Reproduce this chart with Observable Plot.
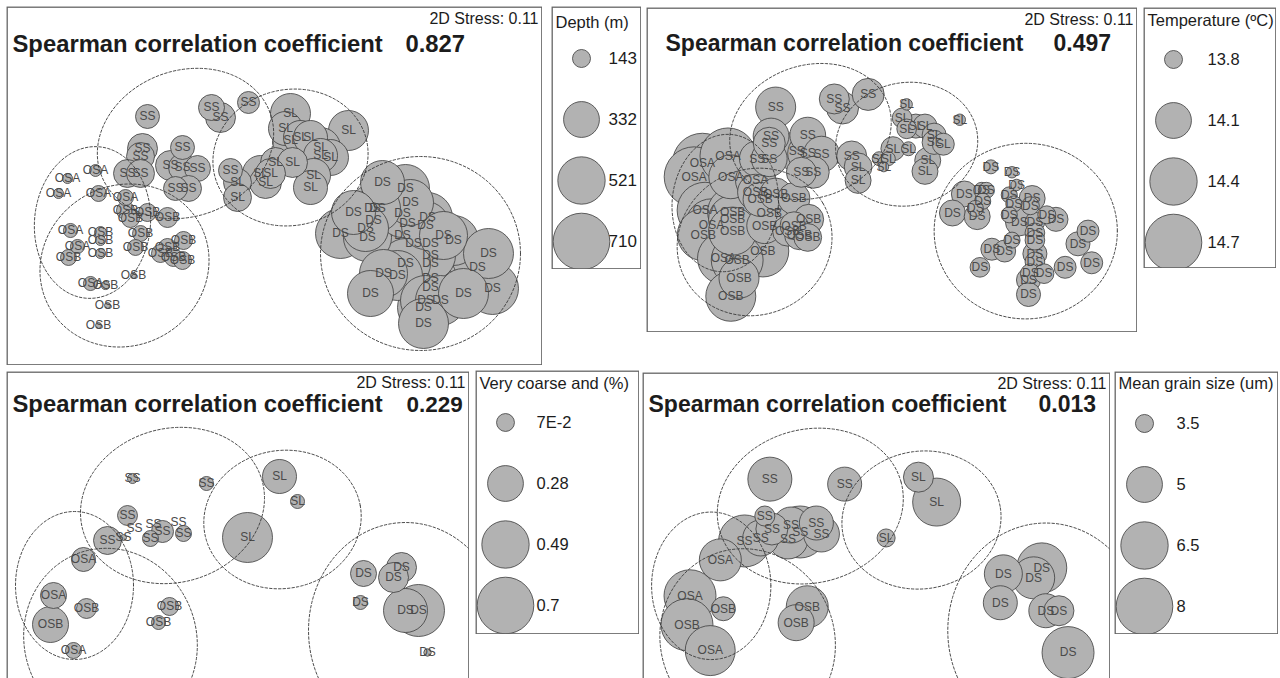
<!DOCTYPE html>
<html><head><meta charset="utf-8">
<script src="https://cdn.jsdelivr.net/npm/d3@7"></script>
<script src="https://cdn.jsdelivr.net/npm/@observablehq/plot@0.6"></script>
<style>
body{margin:0;background:#fff;}
#fig{position:relative;width:1280px;height:678px;overflow:hidden;background:#fff;}
#fig svg{position:absolute;}
</style></head><body><div id="fig"></div>
<script>
// ---------- full sample set (panels 1 & 2): MDS coordinates ----------
const fullLabels = [
  "SS","SS","SS","SS","SS","SS","SS","SS","SS","SS","SS","SS","SS","SS","SS",
  "SL","SL","SL","SL","SL","SL","SL","SL","SL","SL","SL","SL","SL","SL","SL","SL","SL","SL",
  "DS","DS","DS","DS","DS","DS","DS","DS","DS","DS","DS","DS","DS","DS","DS","DS","DS","DS","DS","DS",
  "DS","DS","DS","DS","DS","DS","DS","DS","DS","DS","DS","DS","DS","DS","DS",
  "OSA","OSA","OSA","OSA","OSA","OSB","OSB","OSB","OSB","OSA","OSB","OSB","OSA","OSB","OSB","OSB",
  "OSB","OSB","OSB","OSB","OSB","OSB","OSB","OSA","OSB","OSB","OSB"];
const fullX = [
  -1.27,-0.63,-0.54,-0.26,-1.32,-1.34,-1.47,-1.34,-0.92,-1.04,-0.92,-0.77,-0.86,-0.99,-0.44,
  -0.37,-0.37,-0.14,-0.09,0.16,0.74,0.11,0.16,0.26,0.36,0.46,0.56,0.46,0.01,0.18,0.39,0.36,-0.04,
  1.08,1.31,1.36,0.79,0.98,1.03,0.99,0.91,0.66,0.93,1.28,1.33,1.53,1.51,1.28,1.39,1.56,1.69,1.79,1.56,
  1.56,1.31,1.09,1.23,2.14,2.03,2.18,0.96,1.56,1.56,1.51,1.49,1.66,1.89,1.49,
  -1.79,-2.07,-2.16,-1.76,-1.49,-1.49,-1.44,-1.27,-1.07,-2.04,-1.74,-1.74,-1.97,-1.74,-2.06,-1.34,
  -1.39,-0.91,-1.07,-1.14,-1.01,-0.92,-1.41,-1.84,-1.69,-1.67,-1.76];
const fullY = [
  0.74,0.83,0.73,0.88,0.42,0.34,0.17,0.17,0.43,0.25,0.23,0.22,0.02,0.02,0.20,
  0.08,-0.07,0.17,0.08,0.77,0.60,0.62,0.50,0.53,0.53,0.43,0.33,0.35,0.28,0.28,0.15,0.03,0.17,
  0.08,0.02,-0.12,-0.22,-0.18,-0.18,-0.30,-0.38,-0.43,-0.47,-0.23,-0.33,-0.27,-0.35,-0.45,-0.53,-0.53,-0.45,-0.50,-0.65,
  -0.73,-0.73,-0.83,-0.85,-0.63,-0.77,-0.98,-1.03,-0.88,-0.97,-1.10,-1.17,-1.10,-1.03,-1.33,
  0.20,0.12,-0.03,-0.03,-0.07,-0.20,-0.28,-0.22,-0.27,-0.40,-0.42,-0.50,-0.56,-0.63,-0.67,-0.43,
  -0.57,-0.50,-0.57,-0.63,-0.67,-0.70,-0.85,-0.93,-0.95,-1.15,-1.35];
const depth = [
  192,212,256,174,256,233,233,233,192,256,233,212,212,192,192,
  233,233,334,281,394,394,307,334,307,307,394,334,307,256,256,307,307,256,
  460,533,496,460,533,496,533,496,571,533,533,571,571,533,571,611,571,533,571,571,
  611,571,533,571,571,611,611,496,611,611,571,611,571,571,571,
  107,99,99,129,129,143,143,143,158,118,107,99,118,99,129,129,
  129,143,143,143,143,143,86,118,92,86,86];
const temperature = [
  14.20,13.98,14.02,14.02,14.10,14.02,14.10,14.10,14.10,14.20,14.20,14.10,14.02,13.98,13.98,
  13.94,13.91,13.76,13.73,13.74,13.74,13.82,13.82,13.88,13.88,13.88,13.85,13.88,13.88,13.76,13.91,13.91,13.76,
  13.76,13.74,13.74,13.91,13.78,13.78,13.78,13.78,13.91,13.91,13.78,13.78,13.91,13.80,13.78,13.94,13.82,13.80,13.88,13.82,
  13.82,13.78,13.85,13.85,13.85,13.88,13.85,13.82,13.88,13.82,13.82,13.88,13.82,13.85,13.88,
  14.68,14.82,14.82,14.30,14.20,14.10,14.06,14.02,14.02,14.68,14.48,14.42,14.54,14.42,14.54,14.10,
  14.10,13.98,13.94,13.98,13.98,13.94,14.54,14.54,14.54,14.20,14.48];

// ---------- subset (panels 3 & 4) ----------
const subLabels = ["SS","SS","SS","SS","SS","SS","SS","SS","SS","SS","SS","SL","SL","SL",
  "DS","DS","DS","DS","DS","DS","DS","OSA","OSA","OSB","OSB","OSA","OSB","OSB"];
const subX = [-1.06,-0.32,-1.11,-1.31,-1.15,-1.04,-0.88,-0.76,-0.55,-0.85,-0.60,0.41,0.59,0.09,
  1.25,1.63,1.55,1.22,1.67,1.80,1.89,-1.55,-1.85,-1.88,-1.52,-1.65,-0.69,-0.80];
const subY = [0.47,0.42,0.10,-0.15,-0.12,-0.03,-0.13,-0.06,-0.08,0.01,0.03,0.49,0.24,-0.12,
  -0.48,-0.42,-0.52,-0.77,-0.85,-0.85,-1.27,-0.34,-0.70,-0.99,-0.83,-1.25,-0.81,-0.97];
const coarse = [0.022,0.043,0.087,0.171,0.008,0,0.056,0.106,0.056,0,0,0.253,0.043,0.546,
  0.148,0.197,0.197,0.043,0.423,0.591,0.012,0.126,0.148,0.283,0.087,0.056,0.071,0.043];
const grain = [6.02,4.80,3.62,7.22,5.02,4.59,5.49,7.22,5.02,5.02,4.80,4.40,6.59,3.50,
  5.25,6.90,5.75,4.80,4.80,4.40,7.22,5.75,7.22,7.22,3.89,6.90,5.75,5.02];

// ---------- group ellipses (MDS units) ----------
const ellGroups = ["SS","SL","DS","OSA","OSB"];
const fullEllCx = [-0.89,0.16,1.46,-1.82,-1.50];
const fullEllCy = [0.47,0.33,-0.63,-0.32,-0.75];
const fullEllRx = [0.90,0.78,1.00,0.58,0.86];
const fullEllRy = [0.73,0.68,0.97,0.76,0.80];
const fullEllAng = [20,12,0,-5,30];
const subEllCx = [-0.66,0.44,1.67,-1.64,-1.28];
const subEllCy = [0.20,0.06,-1.05,-0.60,-1.15];
const subEllRx = [0.93,0.79,0.97,0.59,0.86];
const subEllRy = [0.77,0.69,1.08,0.74,0.93];
const subEllAng = [15,10,0,0,20];

// ---------- legends ----------
const depthLegend = [143,332,521,710], depthLegendLabels = ["143","332","521","710"];
const tempLegend = [13.8,14.1,14.4,14.7], tempLegendLabels = ["13.8","14.1","14.4","14.7"];
const coarseLegend = [0.07,0.28,0.49,0.7], coarseLegendLabels = ["7E-2","0.28","0.49","0.7"];
const grainLegend = [3.5,5,6.5,8], grainLegendLabels = ["3.5","5","6.5","8"];
const rhoValues = ["0.827","0.497","0.229","0.013"];

const FONT = '"Liberation Sans", Arial, Helvetica, sans-serif';
const fig = document.getElementById("fig");

const fullPts = fullLabels.map((label,i)=>({label, x:fullX[i], y:fullY[i], depth:depth[i], temp:temperature[i]}));
const subPts = subLabels.map((label,i)=>({label, x:subX[i], y:subY[i], coarse:coarse[i], grain:grain[i]}));

function ellipseRows(cx, cy, rx, ry, ang) {
  const rows = [];
  ellGroups.forEach((g,k)=>{
    const a = ang[k]*Math.PI/180;
    for (let i=0;i<=120;i++){
      const t = 2*Math.PI*i/120, ex = rx[k]*Math.cos(t), ey = ry[k]*Math.sin(t);
      rows.push({g, x: cx[k]+ex*Math.cos(a)-ey*Math.sin(a), y: cy[k]+ex*Math.sin(a)+ey*Math.cos(a)});
    }
  });
  return rows;
}
const fullEll = ellipseRows(fullEllCx, fullEllCy, fullEllRx, fullEllRy, fullEllAng);
const subEll = ellipseRows(subEllCx, subEllCy, subEllRx, subEllRy, subEllAng);

const RMAX = 28.3;
function place(svg, left, top){ svg.style.left = left+"px"; svg.style.top = top+"px"; fig.appendChild(svg); }

function panel(o){
  const svg = Plot.plot({
    width:o.w, height:o.h, margin:0,
    x:{domain:o.xd, axis:null}, y:{domain:o.yd, axis:null},
    r:{type:"sqrt", domain:[0, o.vmax-o.vz], range:[0,RMAX]},
    style:{fontFamily:FONT, background:"#fff", overflow:"hidden"},
    marks:[
      Plot.dot(o.pts, {x:"x", y:"y", r:d=>d[o.key]-o.vz, fill:"#b2b2b2", stroke:"#3c3c3c", strokeWidth:0.8, clip:true}),
      Plot.text(o.pts, {x:"x", y:"y", text:"label", fontSize:12, fill:"#4a4a4a", clip:true}),
      Plot.line(o.ell, {x:"x", y:"y", z:"g", stroke:"#3a3a3a", strokeWidth:0.9, strokeDasharray:"2.5,2", clip:true}),
      Plot.text(["Spearman correlation coefficient"], {text:d=>d, frameAnchor:"top-left", textAnchor:"start", lineAnchor:"bottom", dx:o.tdx, dy:o.tb, fontSize:o.tfs, fontWeight:"bold", fill:"#1c1c1c"}),
      Plot.text([o.rho], {text:d=>d, frameAnchor:"top-left", textAnchor:"start", lineAnchor:"bottom", dx:o.vdx, dy:o.tb, fontSize:o.vfs || o.tfs, fontWeight:"bold", fill:"#1c1c1c"}),
      Plot.text(["2D Stress: 0.11"], {text:d=>d, frameAnchor:"top-right", textAnchor:"end", lineAnchor:"bottom", dx:-4, dy:o.sb, fontSize:16, fill:"#1c1c1c"}),
      Plot.frame({stroke:"#666", strokeWidth:1.3, inset:0.7})
    ]
  });
  place(svg, o.left, o.top);
}

function legend(o){
  const svg = Plot.plot({
    width:o.w, height:o.h, margin:0,
    x:{type:"point", domain:["circle","label"], range:[30, o.lx], padding:0, axis:null},
    y:{domain:[0,3], range:[52,235], axis:null},
    r:{type:"sqrt", domain:[0, o.vals[3]-o.vz], range:[0,RMAX]},
    style:{fontFamily:FONT, background:"#fff", overflow:"hidden"},
    marks:[
      Plot.text([o.title], {text:d=>d, frameAnchor:"top-left", textAnchor:"start", lineAnchor:"bottom", dx:4, dy:o.tb, fontSize:16.5, fill:"#1c1c1c"}),
      Plot.dot(o.vals, {x:()=>"circle", y:(d,i)=>i, r:d=>d-o.vz, fill:"#b2b2b2", stroke:"#3c3c3c", strokeWidth:0.8, sort:null}),
      Plot.text(o.labels, {x:()=>"label", y:(d,i)=>i, text:d=>d, textAnchor:"start", fontSize:o.fs||16.5, fill:"#1c1c1c"}),
      Plot.frame({stroke:"#666", strokeWidth:1.3, inset:0.7})
    ]
  });
  place(svg, o.left, o.top);
}

// zero-radius offsets of the bubble scales (area proportional to value - offset)
const depthZero = 79, tempZero = 13.699, coarseZero = 0, grainZero = 2.99;

panel({left:6, top:6, w:536, h:359, xd:[-2.68,2.68], yd:[-1.75,1.84], pts:fullPts, key:"depth", vz:depthZero, vmax:710, ell:fullEll, rho:rhoValues[0], tdx:6, vdx:399, tb:45, sb:17, tfs:23.8});
panel({left:646, top:7, w:491, h:325, xd:[-2.68,2.68], yd:[-1.75,1.84], pts:fullPts, key:"temp", vz:tempZero, vmax:14.7, ell:fullEll, rho:rhoValues[1], tdx:19, vdx:407, tb:43, sb:17, tfs:23});
panel({left:6, top:371, w:463, h:309, xd:[-2.32,2.31], yd:[-1.55,1.54], pts:subPts, key:"coarse", vz:coarseZero, vmax:0.7, ell:subEll, rho:rhoValues[2], tdx:6, vdx:400, tb:40, sb:16, tfs:23.8, vfs:22.5});
panel({left:642, top:372, w:468, h:308, xd:[-2.32,2.31], yd:[-1.55,1.54], pts:subPts, key:"grain", vz:grainZero, vmax:8, ell:subEll, rho:rhoValues[3], tdx:6, vdx:396, tb:39, sb:16, tfs:23});

legend({left:551, top:6, w:90, h:263, title:"Depth (m)", vals:depthLegend, labels:depthLegendLabels, vz:depthZero, lx:57, tb:21, fs:17});
legend({left:1143, top:7, w:133, h:261, title:"Temperature (ºC)", vals:tempLegend, labels:tempLegendLabels, vz:tempZero, lx:64, tb:18});
legend({left:475, top:370, w:164, h:264, title:"Very coarse and (%)", vals:coarseLegend, labels:coarseLegendLabels, vz:coarseZero, lx:61, tb:18});
legend({left:1114, top:371, w:164, h:263, title:"Mean grain size (um)", vals:grainLegend, labels:grainLegendLabels, vz:grainZero, lx:62, tb:17});
</script></body></html>
